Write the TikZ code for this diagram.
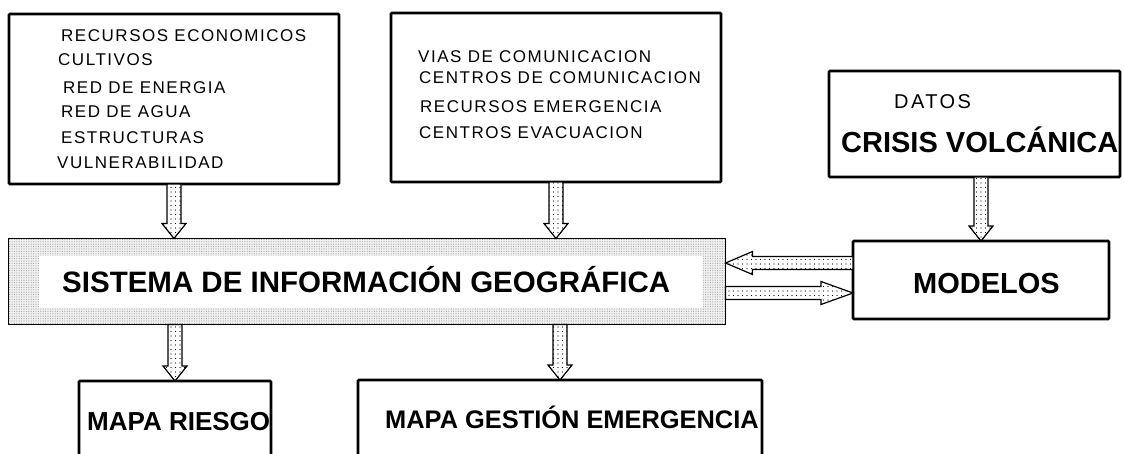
\documentclass[tikz,border=0pt]{standalone}
\usepackage{fontspec}
\setmainfont{Liberation Sans}
\newfontfamily\lsfont[LetterSpace=9]{Liberation Sans}
\newfontfamily\lsfontw[LetterSpace=12]{Liberation Sans}
\usetikzlibrary{calc,patterns.meta}
\newcommand\blockdown[3]{%
  \draw[blockarrow] let \p1=(#2), \p2=(#3), \p3=(#1) in
    (\x3-7pt,\y1) -- (\x3-7pt,\y2+15pt) -- (\x3-12pt,\y2+15pt) -- (\x3,\y2)
    -- (\x3+12pt,\y2+15pt) -- (\x3+7pt,\y2+15pt) -- (\x3+7pt,\y1) -- cycle;}
\begin{document}
\begin{tikzpicture}[x=1pt,y=-1pt,
  box/.style={draw, line width=2.6pt, rounded corners=1pt, outer sep=0pt, inner sep=0pt},
  small/.style={anchor=base west, inner sep=0pt, font=\lsfont\fontsize{17}{20}\selectfont},
  big/.style={anchor=base west, inner sep=0pt, font=\bfseries\fontsize{29}{34}\selectfont},
  blockarrow/.style={draw, line width=1.2pt, line join=miter, preaction={fill=white},
    pattern={Dots[distance=4.5pt, radius=0.65pt]}, pattern color=black},
  sigbox/.style={draw, line width=1.2pt, outer sep=0pt, inner sep=0pt,
    preaction={fill=gray!12}, pattern={Dots[distance=2.4pt, radius=0.55pt]}, pattern color=gray!75},
]
\useasboundingbox (0,0) rectangle (1124,453);
% boxes
\node[box, minimum width=330, minimum height=170] (b1) at (174,99) {};
\node[box, minimum width=330, minimum height=169] (b2) at (556,97.5) {};
\node[box, minimum width=291, minimum height=106] (datos) at (974.5,124) {};
\node[box, minimum width=256, minimum height=78] (modelos) at (981,280) {};
\node[sigbox, minimum width=717, minimum height=86] (sig) at (367,281.5) {};
\fill[white] ([shift={(30pt,-17pt)}]sig.north west) rectangle ([shift={(-23pt,17pt)}]sig.south east);
\node[box, minimum width=192, minimum height=100] (riesgo) at (175,431) {};
\node[box, minimum width=404, minimum height=100] (gestion) at (560,430) {};
% texts
\node[small] (t11) at (61,41) {RECURSOS ECONOMICOS};
\node[small] (t12) at (58,65) {CULTIVOS};
\node[small] (t13) at (63,93) {RED DE ENERGIA};
\node[small] (t14) at (61,117) {RED DE AGUA};
\node[small] (t15) at (61,143) {ESTRUCTURAS};
\node[small] (t16) at (57,168) {VULNERABILIDAD};
\node[small] (t21) at (418,62) {VIAS DE COMUNICACION};
\node[small] (t22) at (419,83) {CENTROS DE COMUNICACION};
\node[small] (t23) at (420,112) {RECURSOS EMERGENCIA};
\node[small] (t24) at (419,138) {CENTROS EVACUACION};
\node[anchor=base west, inner sep=0pt, font=\lsfontw\fontsize{20}{24}\selectfont] (t31) at (894,108) {DATOS};
\node[big] (t32) at (841,152) {CRISIS VOLCÁNICA};
\node[big] (t41) at (913,293) {MODELOS};
\node[anchor=base west, inner sep=0pt, font=\bfseries\fontsize{29.5}{34}\selectfont] (t51) at (62,292) {SISTEMA DE INFORMACIÓN GEOGRÁFICA};
\node[anchor=base west, inner sep=0pt, font=\bfseries\fontsize{26}{30}\selectfont] (t61) at (87,430) {MAPA RIESGO};
\node[anchor=base west, inner sep=0pt, font=\bfseries\fontsize{25.4}{30}\selectfont] (t71) at (385,428) {MAPA GESTIÓN EMERGENCIA};
% arrows
\blockdown{b1.south}{b1.south}{sig.north}
\blockdown{b2.south}{b2.south}{sig.north}
\blockdown{modelos.north}{datos.south}{modelos.north}
\blockdown{riesgo.north}{sig.south}{riesgo.north}
\blockdown{gestion.north}{sig.south}{gestion.north}
\draw[blockarrow] let \p1=([yshift=17pt]modelos.west), \p2=(sig.east) in
  (\x1,\y1-6.5pt) -- (\x2+27pt,\y1-6.5pt) -- (\x2+27pt,\y1-11.5pt) -- (\x2,\y1)
  -- (\x2+27pt,\y1+11.5pt) -- (\x2+27pt,\y1+6.5pt) -- (\x1,\y1+6.5pt) -- cycle;
\draw[blockarrow] let \p1=([yshift=-13pt]modelos.west), \p2=(sig.east) in
  (\x2,\y1-6.5pt) -- (\x1-32pt,\y1-6.5pt) -- (\x1-32pt,\y1-11.5pt) -- (\x1,\y1)
  -- (\x1-32pt,\y1+11.5pt) -- (\x1-32pt,\y1+6.5pt) -- (\x2,\y1+6.5pt) -- cycle;
\end{tikzpicture}
\end{document}
